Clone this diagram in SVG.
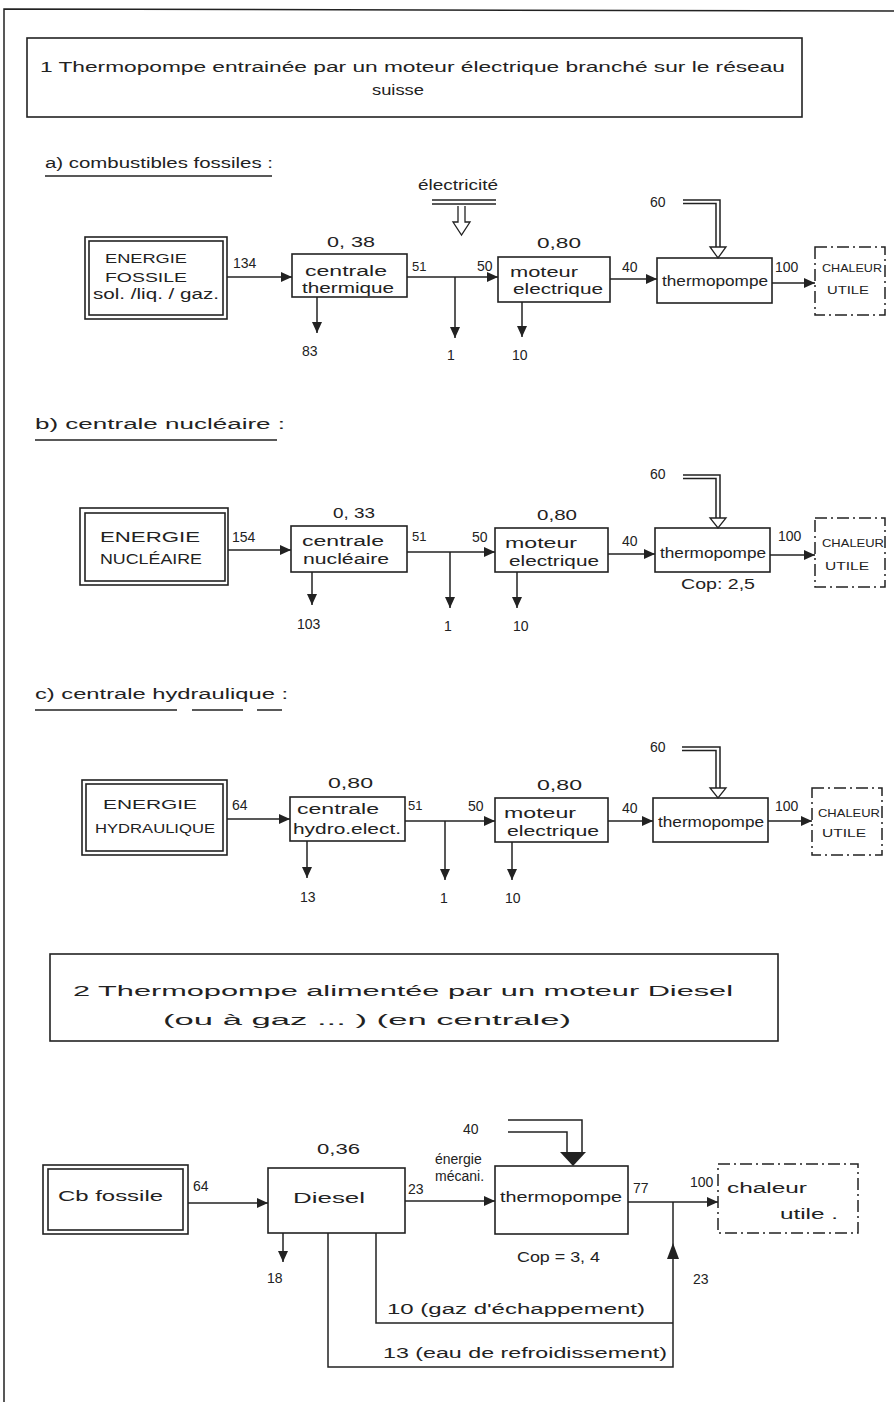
<svg xmlns="http://www.w3.org/2000/svg" width="894" height="1402" viewBox="0 0 894 1402">
<defs>
<marker id="arr" markerUnits="userSpaceOnUse" markerWidth="12" markerHeight="10" refX="11" refY="5" orient="auto">
<path d="M0,0 L11,5 L0,10 z" fill="#222"/>
</marker>
<style>
.ln{stroke:#222;stroke-width:1.5;fill:none}
.bx{stroke:#222;stroke-width:1.6;fill:none}
.dd{stroke:#222;stroke-width:1.5;fill:none;stroke-dasharray:12,4,2,4}
.t{font-family:"Liberation Sans",Arial,sans-serif;fill:#222;font-size:14px}
.s{font-size:13px}
.m{font-size:11px}
.hl{stroke:#222;stroke-width:1.3;fill:#fff}
</style>
</defs>
<rect width="894" height="1402" fill="#fff"/>
<g id="page-border">
<path class="ln" d="M4,1402 V9 L894,11"/>
</g>

<g id="title1">
<rect class="bx" x="27" y="38" width="775" height="79"/>
<text class="t" x="40" y="72" font-size="17" textLength="745" lengthAdjust="spacingAndGlyphs">1 Thermopompe entrainée par un moteur électrique branché sur le réseau</text>
<text class="t" x="372" y="95" font-size="17" textLength="52" lengthAdjust="spacingAndGlyphs">suisse</text>
</g>

<!-- ===== Section a ===== -->
<g id="heading-a">
<text class="t" x="45" y="168" font-size="16" textLength="228" lengthAdjust="spacingAndGlyphs">a) combustibles fossiles :</text>
<line class="ln" x1="45" y1="176" x2="272" y2="176"/>
</g>
<g id="a-electricite">
<text class="t" x="418" y="190" font-size="15" textLength="80" lengthAdjust="spacingAndGlyphs">électricité</text>
<line class="ln" x1="432" y1="200" x2="496" y2="200"/>
<line class="ln" x1="432" y1="204" x2="496" y2="204"/>
<path class="hl" d="M458,206 V222 H453 L461.5,235 L470,222 H465 V206"/>
</g>
<g id="a-energie">
<rect class="bx" x="85" y="237" width="142" height="82"/>
<rect class="bx" x="89" y="241" width="134" height="74"/>
<text class="t s" x="105" y="263" textLength="82" lengthAdjust="spacingAndGlyphs">ENERGIE</text>
<text class="t s" x="105" y="282" textLength="82" lengthAdjust="spacingAndGlyphs">FOSSILE</text>
<text class="t" x="93" y="299" textLength="126" lengthAdjust="spacingAndGlyphs">sol. /liq. / gaz.</text>
</g>
<g id="a-centrale">
<text class="t" x="327" y="247" textLength="48" lengthAdjust="spacingAndGlyphs">0, 38</text>
<rect class="bx" x="292" y="254" width="115" height="43"/>
<text class="t" x="305" y="276" font-size="15" textLength="82" lengthAdjust="spacingAndGlyphs">centrale</text>
<text class="t" x="302" y="293" font-size="15" textLength="92" lengthAdjust="spacingAndGlyphs">thermique</text>
</g>
<g id="a-moteur">
<text class="t" x="537" y="248" textLength="44" lengthAdjust="spacingAndGlyphs">0,80</text>
<rect class="bx" x="498" y="257" width="112" height="45"/>
<text class="t" x="510" y="277" font-size="15" textLength="68" lengthAdjust="spacingAndGlyphs">moteur</text>
<text class="t" x="513" y="294" font-size="15" textLength="90" lengthAdjust="spacingAndGlyphs">electrique</text>
</g>
<g id="a-thermopompe">
<rect class="bx" x="657" y="258" width="115" height="45"/>
<text class="t" x="662" y="286" font-size="15" textLength="106" lengthAdjust="spacingAndGlyphs">thermopompe</text>
</g>
<g id="a-chaleur">
<rect class="dd" x="815" y="247" width="70" height="68"/>
<text class="t m" x="822" y="272" textLength="60" lengthAdjust="spacingAndGlyphs">CHALEUR</text>
<text class="t m" x="827" y="294" textLength="42" lengthAdjust="spacingAndGlyphs">UTILE</text>
</g>

<!-- ===== Section b ===== -->
<g id="heading-b">
<text class="t" x="35" y="429" font-size="17" textLength="250" lengthAdjust="spacingAndGlyphs">b) centrale nucléaire :</text>
<line class="ln" x1="35" y1="440" x2="277" y2="440"/>
</g>
<g id="b-energie">
<rect class="bx" x="80" y="508" width="148" height="77"/>
<rect class="bx" x="85" y="513" width="140" height="68"/>
<text class="t" x="100" y="542" textLength="100" lengthAdjust="spacingAndGlyphs">ENERGIE</text>
<text class="t" x="100" y="564" textLength="102" lengthAdjust="spacingAndGlyphs">NUCLÉAIRE</text>
</g>
<g id="b-centrale">
<text class="t" x="333" y="518" textLength="42" lengthAdjust="spacingAndGlyphs">0, 33</text>
<rect class="bx" x="291" y="526" width="116" height="46"/>
<text class="t" x="302" y="546" font-size="15" textLength="82" lengthAdjust="spacingAndGlyphs">centrale</text>
<text class="t" x="303" y="564" font-size="15" textLength="86" lengthAdjust="spacingAndGlyphs">nucléaire</text>
</g>
<g id="b-moteur">
<text class="t" x="537" y="520" textLength="40" lengthAdjust="spacingAndGlyphs">0,80</text>
<rect class="bx" x="495" y="528" width="113" height="44"/>
<text class="t" x="505" y="548" font-size="15" textLength="72" lengthAdjust="spacingAndGlyphs">moteur</text>
<text class="t" x="509" y="566" font-size="15" textLength="90" lengthAdjust="spacingAndGlyphs">electrique</text>
</g>
<g id="b-thermopompe">
<rect class="bx" x="655" y="528" width="115" height="44"/>
<text class="t" x="660" y="558" font-size="15" textLength="106" lengthAdjust="spacingAndGlyphs">thermopompe</text>
<text class="t" x="681" y="589" font-size="15" textLength="74" lengthAdjust="spacingAndGlyphs">Cop: 2,5</text>
</g>
<g id="b-chaleur">
<rect class="dd" x="815" y="518" width="70" height="69"/>
<text class="t m" x="822" y="547" textLength="62" lengthAdjust="spacingAndGlyphs">CHALEUR</text>
<text class="t m" x="825" y="570" textLength="44" lengthAdjust="spacingAndGlyphs">UTILE</text>
</g>

<!-- ===== Section c ===== -->
<g id="heading-c">
<text class="t" x="35" y="699" font-size="17" textLength="253" lengthAdjust="spacingAndGlyphs">c) centrale hydraulique :</text>
<line class="ln" x1="35" y1="710" x2="177" y2="710"/>
<line class="ln" x1="192" y1="710" x2="243" y2="710"/>
<line class="ln" x1="257" y1="710" x2="282" y2="710"/>
</g>
<g id="c-energie">
<rect class="bx" x="82" y="780" width="145" height="75"/>
<rect class="bx" x="86" y="784" width="137" height="67"/>
<text class="t s" x="103" y="809" textLength="94" lengthAdjust="spacingAndGlyphs">ENERGIE</text>
<text class="t s" x="95" y="833" textLength="120" lengthAdjust="spacingAndGlyphs">HYDRAULIQUE</text>
</g>
<g id="c-centrale">
<text class="t" x="328" y="788" textLength="45" lengthAdjust="spacingAndGlyphs">0,80</text>
<rect class="bx" x="290" y="797" width="115" height="44"/>
<text class="t" x="297" y="814" font-size="15" textLength="82" lengthAdjust="spacingAndGlyphs">centrale</text>
<text class="t" x="293" y="834" font-size="15" textLength="108" lengthAdjust="spacingAndGlyphs">hydro.elect.</text>
</g>
<g id="c-moteur">
<text class="t" x="537" y="790" textLength="45" lengthAdjust="spacingAndGlyphs">0,80</text>
<rect class="bx" x="495" y="798" width="113" height="44"/>
<text class="t" x="504" y="818" font-size="15" textLength="72" lengthAdjust="spacingAndGlyphs">moteur</text>
<text class="t" x="507" y="836" font-size="15" textLength="92" lengthAdjust="spacingAndGlyphs">electrique</text>
</g>
<g id="c-thermopompe">
<rect class="bx" x="653" y="798" width="115" height="44"/>
<text class="t" x="658" y="827" font-size="15" textLength="106" lengthAdjust="spacingAndGlyphs">thermopompe</text>
</g>
<g id="c-chaleur">
<rect class="dd" x="812" y="788" width="70" height="67"/>
<text class="t m" x="818" y="817" textLength="62" lengthAdjust="spacingAndGlyphs">CHALEUR</text>
<text class="t m" x="822" y="837" textLength="44" lengthAdjust="spacingAndGlyphs">UTILE</text>
</g>

<!-- ===== Title 2 ===== -->
<g id="title2">
<rect class="bx" x="50" y="954" width="728" height="87"/>
<text class="t" x="73" y="996" font-size="20" textLength="660" lengthAdjust="spacingAndGlyphs">2 Thermopompe alimentée par un moteur Diesel</text>
<text class="t" x="163" y="1025" font-size="20" textLength="408" lengthAdjust="spacingAndGlyphs">(ou à gaz ... )    (en centrale)</text>
</g>

<!-- ===== Section 2 ===== -->
<g id="d-cb">
<rect class="bx" x="43" y="1165" width="145" height="69"/>
<rect class="bx" x="48" y="1169" width="135" height="61"/>
<text class="t" x="58" y="1201" font-size="20" textLength="105" lengthAdjust="spacingAndGlyphs">Cb fossile</text>
</g>
<g id="d-diesel">
<text class="t" x="317" y="1154" font-size="16" textLength="43" lengthAdjust="spacingAndGlyphs">0,36</text>
<rect class="bx" x="268" y="1168" width="137" height="65"/>
<text class="t" x="293" y="1203" font-size="21" textLength="72" lengthAdjust="spacingAndGlyphs">Diesel</text>
</g>
<g id="d-thermopompe">
<rect class="bx" x="495" y="1166" width="133" height="68"/>
<text class="t" x="500" y="1202" font-size="18" textLength="122" lengthAdjust="spacingAndGlyphs">thermopompe</text>
<text class="t" x="517" y="1262" font-size="17" textLength="83" lengthAdjust="spacingAndGlyphs">Cop = 3, 4</text>
</g>
<g id="d-chaleur">
<rect class="dd" x="718" y="1164" width="140" height="69"/>
<text class="t" x="727" y="1193" font-size="20" textLength="80" lengthAdjust="spacingAndGlyphs">chaleur</text>
<text class="t" x="780" y="1219" font-size="20" textLength="58" lengthAdjust="spacingAndGlyphs">utile .</text>
</g>

<!-- ===== Connectors ===== -->
<g id="connectors">
<!-- a -->
<line class="ln" x1="227" y1="277" x2="292" y2="277" marker-end="url(#arr)"/>
<line class="ln" x1="407" y1="277" x2="498" y2="277" marker-end="url(#arr)"/>
<line class="ln" x1="455" y1="277" x2="455" y2="338" marker-end="url(#arr)"/>
<line class="ln" x1="317" y1="297" x2="317" y2="333" marker-end="url(#arr)"/>
<line class="ln" x1="522" y1="302" x2="522" y2="337" marker-end="url(#arr)"/>
<line class="ln" x1="610" y1="279" x2="657" y2="279" marker-end="url(#arr)"/>
<line class="ln" x1="772" y1="283" x2="815" y2="283" marker-end="url(#arr)"/>
<path class="ln" d="M683,200 H720 V247"/>
<path class="ln" d="M683,203.5 H716 V247"/>
<path class="hl" d="M710,247 H726 L718,258 z"/>
<!-- b -->
<line class="ln" x1="228" y1="550" x2="291" y2="550" marker-end="url(#arr)"/>
<line class="ln" x1="407" y1="552" x2="495" y2="552" marker-end="url(#arr)"/>
<line class="ln" x1="450" y1="552" x2="450" y2="608" marker-end="url(#arr)"/>
<line class="ln" x1="312" y1="572" x2="312" y2="605" marker-end="url(#arr)"/>
<line class="ln" x1="517" y1="572" x2="517" y2="608" marker-end="url(#arr)"/>
<line class="ln" x1="608" y1="554" x2="655" y2="554" marker-end="url(#arr)"/>
<line class="ln" x1="770" y1="555" x2="815" y2="555" marker-end="url(#arr)"/>
<path class="ln" d="M683,475 H720 V518"/>
<path class="ln" d="M683,478.5 H716 V518"/>
<path class="hl" d="M710,518 H726 L718,528 z"/>
<!-- c -->
<line class="ln" x1="227" y1="819" x2="290" y2="819" marker-end="url(#arr)"/>
<line class="ln" x1="405" y1="821" x2="495" y2="821" marker-end="url(#arr)"/>
<line class="ln" x1="445" y1="821" x2="445" y2="880" marker-end="url(#arr)"/>
<line class="ln" x1="307" y1="841" x2="307" y2="878" marker-end="url(#arr)"/>
<line class="ln" x1="512" y1="842" x2="512" y2="880" marker-end="url(#arr)"/>
<line class="ln" x1="608" y1="821" x2="653" y2="821" marker-end="url(#arr)"/>
<line class="ln" x1="768" y1="821" x2="812" y2="821" marker-end="url(#arr)"/>
<path class="ln" d="M682,747 H720 V788"/>
<path class="ln" d="M682,750.5 H716 V788"/>
<path class="hl" d="M710,788 H726 L718,798 z"/>
<!-- 2 -->
<line class="ln" x1="188" y1="1203" x2="268" y2="1203" marker-end="url(#arr)"/>
<line class="ln" x1="405" y1="1201" x2="495" y2="1201" marker-end="url(#arr)"/>
<line class="ln" x1="628" y1="1202" x2="718" y2="1202" marker-end="url(#arr)"/>
<line class="ln" x1="283" y1="1233" x2="283" y2="1262" marker-end="url(#arr)"/>
<path class="ln" d="M376,1233 V1323 H673"/>
<path class="ln" d="M328,1233 V1367 H673 V1243"/>
<path d="M667,1259 L673,1243 L679,1259 z" fill="#222"/>
<line class="ln" x1="673" y1="1243" x2="673" y2="1202"/>
<path class="ln" d="M508,1120 H582 V1153"/>
<path class="ln" d="M508,1132 H567 V1153"/>
<path d="M560,1152 H586 L573,1166 z" fill="#222"/>
</g>

<g id="flow-labels">
<text class="t" x="233" y="268">134</text>
<text class="t s" x="412" y="271">51</text>
<text class="t" x="477" y="271">50</text>
<text class="t" x="622" y="272">40</text>
<text class="t" x="650" y="207" font-size="15">60</text>
<text class="t" x="775" y="272">100</text>
<text class="t" x="302" y="356" font-size="15">83</text>
<text class="t" x="447" y="360">1</text>
<text class="t" x="512" y="360">10</text>

<text class="t" x="232" y="542">154</text>
<text class="t s" x="412" y="541">51</text>
<text class="t" x="472" y="542">50</text>
<text class="t" x="622" y="546">40</text>
<text class="t" x="650" y="479" font-size="15">60</text>
<text class="t" x="778" y="541">100</text>
<text class="t" x="297" y="629">103</text>
<text class="t" x="444" y="631">1</text>
<text class="t" x="513" y="631">10</text>

<text class="t" x="232" y="810">64</text>
<text class="t s" x="408" y="810">51</text>
<text class="t" x="468" y="811">50</text>
<text class="t" x="622" y="813">40</text>
<text class="t" x="650" y="752" font-size="15">60</text>
<text class="t" x="775" y="811">100</text>
<text class="t" x="300" y="902">13</text>
<text class="t" x="440" y="903">1</text>
<text class="t" x="505" y="903">10</text>

<text class="t" x="193" y="1191" font-size="16">64</text>
<text class="t" x="408" y="1194" font-size="17">23</text>
<text class="t" x="435" y="1164" font-size="8">énergie</text>
<text class="t" x="435" y="1181" font-size="8">mécani.</text>
<text class="t" x="463" y="1134" font-size="22">40</text>
<text class="t" x="633" y="1193" font-size="16">77</text>
<text class="t" x="690" y="1187" font-size="13">100</text>
<text class="t" x="267" y="1283" font-size="17">18</text>
<text class="t" x="693" y="1284" font-size="17">23</text>
<text class="t" x="387" y="1314" font-size="17" textLength="258" lengthAdjust="spacingAndGlyphs">10 (gaz d'échappement)</text>
<text class="t" x="383" y="1358" font-size="17" textLength="284" lengthAdjust="spacingAndGlyphs">13 (eau de refroidissement)</text>
</g>
</svg>
